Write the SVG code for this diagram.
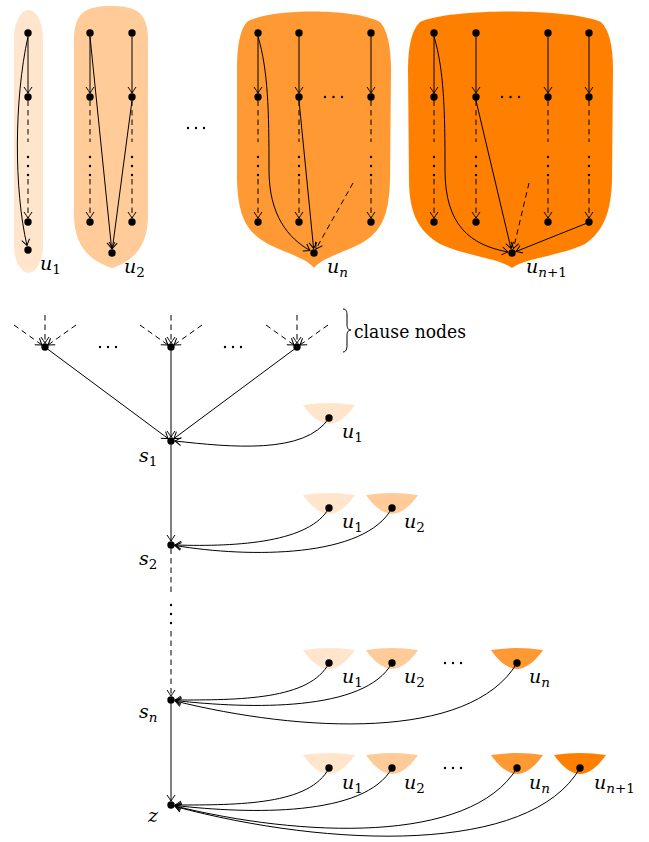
<svg xmlns="http://www.w3.org/2000/svg" width="649" height="842" viewBox="0 0 649 842">
<defs>
<marker id="arr" viewBox="-7 -5 8 10" refX="0" refY="0" markerWidth="8" markerHeight="10" markerUnits="userSpaceOnUse" orient="auto">
<path d="M-6,-4 Q-2,-1.2 0,0 Q-2,1.2 -6,4" fill="none" stroke="#000" stroke-width="1" stroke-dasharray="none"/>
</marker>
<path id="cup" d="M-26,-13 Q0,-17 26,-13 C20,-4 10,6 0,6 C-10,6 -20,-4 -26,-13 Z"/>
</defs>
<style>
.e{fill:none;stroke:#000;stroke-width:1}
.d{fill:none;stroke:#000;stroke-width:1;stroke-dasharray:5.5 4}
.a{marker-end:url(#arr)}
.n{fill:#000}
.t{font-family:"DejaVu Serif","Liberation Serif",serif;font-size:19px;fill:#000}
.i{font-style:italic}
.s{font-size:13.5px}
.c1{fill:#FFE5CC}.c2{fill:#FFCC99}.c3{fill:#FF9933}.c4{fill:#FF8000}
</style>
<rect width="649" height="842" fill="#fff"/>

<!-- gadget u1 -->
<g id="gadget-u1">
<rect x="14" y="10" width="29" height="263" rx="14.5" ry="28" class="c1"/>
<circle cx="28" cy="33" r="3.7" class="n"/><circle cx="28" cy="97" r="3.7" class="n"/><circle cx="28" cy="222" r="3.7" class="n"/><circle cx="28" cy="250" r="3.7" class="n"/>
<circle cx="28" cy="157" r="1.2" class="n"/><circle cx="28" cy="166" r="1.2" class="n"/><circle cx="28" cy="175" r="1.2" class="n"/>
<text x="40" y="270" class="t"><tspan class="i">u</tspan><tspan class="s" dy="4">1</tspan></text>
</g>

<!-- gadget u2 -->
<g id="gadget-u2">
<path d="M74,40 C74,12 86,6 111,6 C136,6 148,12 148,40 L148,215 C148,250 130,262 112,268 C94,262 74,250 74,215 Z" class="c2"/>
<circle cx="90" cy="33" r="3.7" class="n"/><circle cx="90" cy="97" r="3.7" class="n"/><circle cx="90" cy="222" r="3.7" class="n"/>
<circle cx="132" cy="33" r="3.7" class="n"/><circle cx="132" cy="97" r="3.7" class="n"/><circle cx="132" cy="222" r="3.7" class="n"/>
<circle cx="112" cy="253" r="3.7" class="n"/>
<circle cx="90" cy="157" r="1.2" class="n"/><circle cx="90" cy="166" r="1.2" class="n"/><circle cx="90" cy="175" r="1.2" class="n"/>
<circle cx="132" cy="157" r="1.2" class="n"/><circle cx="132" cy="166" r="1.2" class="n"/><circle cx="132" cy="175" r="1.2" class="n"/>
<text x="124" y="273" class="t"><tspan class="i">u</tspan><tspan class="s" dy="4">2</tspan></text>
</g>

<g id="gadget-dots"><circle cx="188" cy="128" r="1.2" class="n"/><circle cx="196" cy="128" r="1.2" class="n"/><circle cx="204" cy="128" r="1.2" class="n"/></g>

<!-- gadget un -->
<g id="gadget-un">
<path d="M237,70 C237,45 240,30 247,22 C270,8 355,8 380,22 C387,30 391,45 391,70 L390,180 C389,215 382,232 360,244 C340,254 322,258 314,268 C306,258 288,254 268,244 C246,232 238,215 237,180 Z" class="c3"/>
<circle cx="258" cy="33" r="3.7" class="n"/><circle cx="258" cy="97" r="3.7" class="n"/><circle cx="258" cy="222" r="3.7" class="n"/>
<circle cx="299" cy="33" r="3.7" class="n"/><circle cx="299" cy="97" r="3.7" class="n"/><circle cx="299" cy="222" r="3.7" class="n"/>
<circle cx="371" cy="33" r="3.7" class="n"/><circle cx="371" cy="97" r="3.7" class="n"/><circle cx="371" cy="222" r="3.7" class="n"/>
<circle cx="314" cy="253" r="3.7" class="n"/>
<circle cx="258" cy="157" r="1.2" class="n"/><circle cx="258" cy="166" r="1.2" class="n"/><circle cx="258" cy="175" r="1.2" class="n"/>
<circle cx="299" cy="157" r="1.2" class="n"/><circle cx="299" cy="166" r="1.2" class="n"/><circle cx="299" cy="175" r="1.2" class="n"/>
<circle cx="371" cy="157" r="1.2" class="n"/><circle cx="371" cy="166" r="1.2" class="n"/><circle cx="371" cy="175" r="1.2" class="n"/>
<circle cx="325" cy="97" r="1.2" class="n"/><circle cx="333.5" cy="97" r="1.2" class="n"/><circle cx="342" cy="97" r="1.2" class="n"/>
<text x="327" y="273" class="t"><tspan class="i">u</tspan><tspan class="s i" dy="4">n</tspan></text>
</g>

<!-- gadget un+1 -->
<g id="gadget-un1">
<path d="M408,70 C408,45 412,30 420,22 C450,8 570,8 601,22 C609,30 613,45 613,70 L612,180 C611,215 602,232 585,244 C560,256 525,258 512,268 C499,258 465,256 440,244 C420,232 409,215 409,180 Z" class="c4"/>
<circle cx="434" cy="33" r="3.7" class="n"/><circle cx="434" cy="97" r="3.7" class="n"/><circle cx="434" cy="222" r="3.7" class="n"/>
<circle cx="476" cy="33" r="3.7" class="n"/><circle cx="476" cy="97" r="3.7" class="n"/><circle cx="476" cy="222" r="3.7" class="n"/>
<circle cx="548" cy="33" r="3.7" class="n"/><circle cx="548" cy="97" r="3.7" class="n"/><circle cx="548" cy="222" r="3.7" class="n"/>
<circle cx="589" cy="33" r="3.7" class="n"/><circle cx="589" cy="97" r="3.7" class="n"/><circle cx="589" cy="222" r="3.7" class="n"/>
<circle cx="512" cy="253" r="3.7" class="n"/>
<circle cx="434" cy="157" r="1.2" class="n"/><circle cx="434" cy="166" r="1.2" class="n"/><circle cx="434" cy="175" r="1.2" class="n"/>
<circle cx="476" cy="157" r="1.2" class="n"/><circle cx="476" cy="166" r="1.2" class="n"/><circle cx="476" cy="175" r="1.2" class="n"/>
<circle cx="548" cy="157" r="1.2" class="n"/><circle cx="548" cy="166" r="1.2" class="n"/><circle cx="548" cy="175" r="1.2" class="n"/>
<circle cx="589" cy="157" r="1.2" class="n"/><circle cx="589" cy="166" r="1.2" class="n"/><circle cx="589" cy="175" r="1.2" class="n"/>
<circle cx="502" cy="97" r="1.2" class="n"/><circle cx="510.5" cy="97" r="1.2" class="n"/><circle cx="519" cy="97" r="1.2" class="n"/>
<text x="526" y="273" class="t"><tspan class="i">u</tspan><tspan class="s" dy="4"><tspan class="i">n</tspan>+1</tspan></text>
</g>

<!-- gadget connectors -->
<g id="gadget-edges">
<path class="e a" d="M28,36.5 V93"/><path class="d" d="M28,100.5 V142"/><path class="d a" d="M28,179 V218"/>
<path class="e a" d="M90,36.5 V93"/><path class="d" d="M90,100.5 V142"/><path class="d a" d="M90,179 V218"/>
<path class="e a" d="M132,36.5 V93"/><path class="d" d="M132,100.5 V142"/><path class="d a" d="M132,179 V218"/>
<path class="e a" d="M258,36.5 V93"/><path class="d" d="M258,100.5 V142"/><path class="d a" d="M258,179 V218"/>
<path class="e a" d="M299,36.5 V93"/><path class="d" d="M299,100.5 V142"/><path class="d a" d="M299,179 V218"/>
<path class="e a" d="M371,36.5 V93"/><path class="d" d="M371,100.5 V142"/><path class="d a" d="M371,179 V218"/>
<path class="e a" d="M434,36.5 V93"/><path class="d" d="M434,100.5 V142"/><path class="d a" d="M434,179 V218"/>
<path class="e a" d="M476,36.5 V93"/><path class="d" d="M476,100.5 V142"/><path class="d a" d="M476,179 V218"/>
<path class="e a" d="M548,36.5 V93"/><path class="d" d="M548,100.5 V142"/><path class="d a" d="M548,179 V218"/>
<path class="e a" d="M589,36.5 V93"/><path class="d" d="M589,100.5 V142"/><path class="d a" d="M589,179 V218"/>
<path class="e a" d="M28,36.5 C14,100 14,190 27,245.5"/>
<path class="e a" d="M90,36.5 L111.6,248.5"/>
<path class="e a" d="M132,100.5 L112.4,248.5"/>
<path class="e a" d="M258,36.5 C268,70 269,110 269,170 C269,215 288,238 310,250.5"/>
<path class="e a" d="M299,100.5 L313.6,248.5"/>
<path class="d a" d="M353,183 L316,249"/>
<path class="e a" d="M434,36.5 C444,70 445,110 445,170 C445,225 470,245 508,252"/>
<path class="e a" d="M476,100.5 L511,248.5"/>
<path class="d a" d="M529,183 L513.5,248.5"/>
<path class="e a" d="M586,223.5 L516,251.5"/>
</g>

<!-- clause nodes -->
<g id="clause-nodes">
<circle cx="45" cy="347" r="3.7" class="n"/><circle cx="171" cy="347" r="3.7" class="n"/><circle cx="297" cy="347" r="3.7" class="n"/>
<circle cx="100" cy="347" r="1.2" class="n"/><circle cx="108" cy="347" r="1.2" class="n"/><circle cx="116" cy="347" r="1.2" class="n"/>
<circle cx="225" cy="347" r="1.2" class="n"/><circle cx="233" cy="347" r="1.2" class="n"/><circle cx="241" cy="347" r="1.2" class="n"/>
<path class="e" d="M343,309 C346,309 347,311 347,315 L347,324 C347,328 348,330 351,330 C348,330 347,332 347,336 L347,345 C347,349 346,352 343,352" stroke-width="0.9"/>
<text x="354" y="338" font-family="DejaVu Serif" font-size="18.5" textLength="112" lengthAdjust="spacingAndGlyphs">clause nodes</text>
</g>

<!-- s nodes -->
<g id="s1"><circle cx="171" cy="441" r="3.7" class="n"/><text x="139" y="462" class="t"><tspan class="i">s</tspan><tspan class="s" dy="4">1</tspan></text></g>
<g id="s2"><circle cx="171" cy="545" r="3.7" class="n"/><text x="139" y="565" class="t"><tspan class="i">s</tspan><tspan class="s" dy="4">2</tspan></text></g>
<g id="sn"><circle cx="171" cy="700" r="3.7" class="n"/><text x="139" y="718" class="t"><tspan class="i">s</tspan><tspan class="s i" dy="4">n</tspan></text></g>
<g id="z"><circle cx="171" cy="805" r="3.7" class="n"/><text x="148" y="822" class="t i">z</text></g>

<!-- cups -->
<g id="row-s1-u1"><use href="#cup" x="329" y="418" class="c1"/><circle cx="329" cy="418" r="3.7" class="n"/><text x="342" y="438" class="t"><tspan class="i">u</tspan><tspan class="s" dy="4">1</tspan></text></g>
<g id="row-s2-u1"><use href="#cup" x="329" y="508" class="c1"/><circle cx="329" cy="508" r="3.7" class="n"/><text x="342" y="528" class="t"><tspan class="i">u</tspan><tspan class="s" dy="4">1</tspan></text></g>
<g id="row-s2-u2"><use href="#cup" x="392" y="508" class="c2"/><circle cx="392" cy="508" r="3.7" class="n"/><text x="404" y="528" class="t"><tspan class="i">u</tspan><tspan class="s" dy="4">2</tspan></text></g>
<g id="row-sn-u1"><use href="#cup" x="329" y="663" class="c1"/><circle cx="329" cy="663" r="3.7" class="n"/><text x="342" y="683" class="t"><tspan class="i">u</tspan><tspan class="s" dy="4">1</tspan></text></g>
<g id="row-sn-u2"><use href="#cup" x="392" y="663" class="c2"/><circle cx="392" cy="663" r="3.7" class="n"/><text x="404" y="683" class="t"><tspan class="i">u</tspan><tspan class="s" dy="4">2</tspan></text></g>
<g id="row-sn-dots"><circle cx="445" cy="663" r="1.2" class="n"/><circle cx="453" cy="663" r="1.2" class="n"/><circle cx="461" cy="663" r="1.2" class="n"/></g>
<g id="row-sn-un"><use href="#cup" x="517" y="663" class="c3"/><circle cx="517" cy="663" r="3.7" class="n"/><text x="529" y="683" class="t"><tspan class="i">u</tspan><tspan class="s i" dy="4">n</tspan></text></g>
<g id="row-z-u1"><use href="#cup" x="329" y="768" class="c1"/><circle cx="329" cy="768" r="3.7" class="n"/><text x="342" y="789" class="t"><tspan class="i">u</tspan><tspan class="s" dy="4">1</tspan></text></g>
<g id="row-z-u2"><use href="#cup" x="392" y="768" class="c2"/><circle cx="392" cy="768" r="3.7" class="n"/><text x="404" y="789" class="t"><tspan class="i">u</tspan><tspan class="s" dy="4">2</tspan></text></g>
<g id="row-z-dots"><circle cx="445" cy="768" r="1.2" class="n"/><circle cx="453" cy="768" r="1.2" class="n"/><circle cx="461" cy="768" r="1.2" class="n"/></g>
<g id="row-z-un"><use href="#cup" x="517" y="768" class="c3"/><circle cx="517" cy="768" r="3.7" class="n"/><text x="529" y="789" class="t"><tspan class="i">u</tspan><tspan class="s i" dy="4">n</tspan></text></g>
<g id="row-z-un1"><use href="#cup" x="580" y="768" class="c4"/><circle cx="580" cy="768" r="3.7" class="n"/><text x="594" y="789" class="t"><tspan class="i">u</tspan><tspan class="s" dy="4"><tspan class="i">n</tspan>+1</tspan></text></g>

<!-- connectors -->
<g id="connectors">
<path class="d a" d="M45,315 V343"/><path class="d a" d="M14,325 L42,345"/><path class="d a" d="M76,325 L48,345"/>
<path class="d a" d="M171,315 V343"/><path class="d a" d="M140,325 L168,345"/><path class="d a" d="M202,325 L174,345"/>
<path class="d a" d="M297,315 V343"/><path class="d a" d="M266,325 L294,345"/><path class="d a" d="M328,325 L300,345"/>
<path class="e a" d="M47.5,349 L168,438.5"/>
<path class="e a" d="M171,350.5 V437"/>
<path class="e a" d="M294.5,349 L174,438.5"/>
<path class="e a" d="M171,444.5 V541"/>
<path class="d" d="M171,548.5 V595"/>
<circle cx="171" cy="605" r="1.2" class="n"/><circle cx="171" cy="614" r="1.2" class="n"/><circle cx="171" cy="623" r="1.2" class="n"/>
<path class="d a" d="M171,631 V696"/>
<path class="e a" d="M171,703.5 V801"/>
<path class="e a" d="M329,418 C305,455 230,447 175,441"/>
<path class="e a" d="M329,508 C310,542 240,547 175,545"/>
<path class="e a" d="M392,508 C365,558 250,558 175,545.5"/>
<path class="e a" d="M329,663 C310,700 240,700 175,700"/>
<path class="e a" d="M392,663 C365,712 250,709 175,700.5"/>
<path class="e a" d="M517,663 C470,742 300,732 175,701"/>
<path class="e a" d="M329,768 C310,805 240,805 175,805"/>
<path class="e a" d="M392,768 C365,817 250,814 175,805.5"/>
<path class="e a" d="M517,768 C470,845 300,837 175,806"/>
<path class="e a" d="M580,768 C530,855 330,848 175,806.5"/>
</g>
</svg>
